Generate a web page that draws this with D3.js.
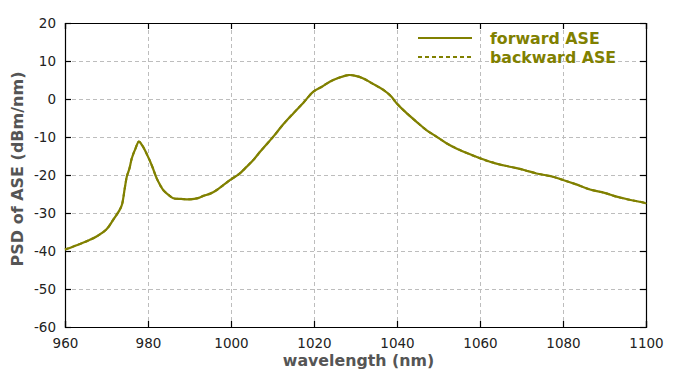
<!DOCTYPE html>
<html><head><meta charset="utf-8">
<script src="https://cdn.jsdelivr.net/npm/d3@7"></script>
<style>body{margin:0;background:#fff}svg{display:block}</style>
</head><body>
<script>
const wavelength = [960,963,965.5,967.6,970,971.6,973,973.7,974.4,974.9,975.5,976.1,977,977.8,978.6,979.8,981,982.1,983,983.7,985,986.1,988,990.1,992,993.3,995,996.5,998,999.8,1002,1003.8,1005.5,1007,1008.6,1010.2,1012.5,1015,1017.5,1019.8,1022,1023.9,1026,1028.3,1030,1031.9,1034,1036.7,1038.5,1039.9,1042,1044.7,1047,1049.5,1052,1054.3,1057,1060,1062.4,1065,1068.8,1071,1073.6,1077,1080,1083,1086.5,1090,1092.9,1096,1099.8,1100];
const forwardASE = [-39.6,-38.4,-37.3,-36.2,-34.3,-31.8,-29.5,-27.9,-23.5,-20.4,-18.4,-15.6,-13,-11.2,-12.2,-14.7,-17.7,-20.9,-22.8,-24,-25.3,-26.1,-26.3,-26.4,-26.1,-25.5,-24.9,-24,-22.8,-21.3,-19.7,-17.8,-15.9,-13.9,-11.9,-9.9,-6.8,-3.8,-0.9,1.9,3.3,4.6,5.6,6.3,6.1,5.4,4.1,2.4,0.8,-1.1,-3.4,-6,-8.1,-9.9,-11.7,-13,-14.3,-15.6,-16.5,-17.3,-18.2,-18.8,-19.6,-20.3,-21.3,-22.4,-23.8,-24.7,-25.7,-26.5,-27.4,-27.6];
const backwardASE = forwardASE.slice();
const xTicks = [960,980,1000,1020,1040,1060,1080,1100];
const yTicks = [20,10,0,-10,-20,-30,-40,-50,-60];
const seriesNames = ["forward ASE","backward ASE"];

const W=700,H=375, L=65, R=646, T=23, B=327;
const color = "#808000";
const svg = d3.select("body").append("svg").attr("width",W).attr("height",H);
const x = d3.scaleLinear().domain([960,1100]).range([L,R]);
const y = d3.scaleLinear().domain([-60,20]).range([B,T]);
const font = "DejaVu Sans, Verdana, sans-serif";

// grid
const g = svg.append("g");
g.selectAll(".gx").data(xTicks.slice(1,-1)).enter().append("line")
 .attr("x1",d=>x(d)+0.5).attr("x2",d=>x(d)+0.5).attr("y1",T).attr("y2",B)
 .attr("stroke","#bdbdbd").attr("stroke-dasharray","4,3");
g.selectAll(".gy").data(yTicks.slice(1,-1)).enter().append("line")
 .attr("y1",d=>Math.round(y(d))+0.5).attr("y2",d=>Math.round(y(d))+0.5).attr("x1",L).attr("x2",R)
 .attr("stroke","#bdbdbd").attr("stroke-dasharray","4,3");

// axes (ticks inward)
const fmt = d => String(d);
const axB = d3.axisBottom(x).tickValues(xTicks).tickSize(-6).tickPadding(11).tickFormat(fmt);
const axL = d3.axisLeft(y).tickValues(yTicks).tickSize(-6).tickPadding(9).tickFormat(fmt);
const axT = d3.axisTop(x).tickValues(xTicks).tickSize(-6).tickFormat("");
const axR = d3.axisRight(y).tickValues(yTicks).tickSize(-6).tickFormat("");
[[axB,`translate(0,${B})`],[axL,`translate(${L},0)`],[axT,`translate(0,${T})`],[axR,`translate(${R},0)`]].forEach(([a,t])=>{
  const gg = svg.append("g").attr("transform",t).call(a);
  gg.selectAll("path,line").attr("stroke","#000").attr("stroke-width",1.2);
  gg.selectAll("text").attr("font-family",font).attr("font-size",13.5).attr("fill","#222");
});

// lines
const line = d3.line().x((d,i)=>x(wavelength[i])).y(d=>y(d)).curve(d3.curveCatmullRom.alpha(0.5));
svg.append("path").datum(backwardASE).attr("d",line).attr("fill","none")
 .attr("stroke",color).attr("stroke-width",2).attr("stroke-dasharray","4,3");
svg.append("path").datum(forwardASE).attr("d",line).attr("fill","none")
 .attr("stroke",color).attr("stroke-width",2.2);

// legend
const lg = svg.append("g");
seriesNames.forEach((n,i)=>{
  const yy = 38 + i*19;
  lg.append("line").attr("x1",418).attr("x2",472).attr("y1",yy).attr("y2",yy)
    .attr("stroke",color).attr("stroke-width",2).attr("stroke-dasharray",i? "4,3":null);
  lg.append("text").attr("x",490).attr("y",yy+5.5).text(n)
    .attr("font-family",font).attr("font-size",15.8).attr("font-weight","bold").attr("fill",color);
});

// axis labels
svg.append("text").attr("x",(L+R)/2+3).attr("y",366).attr("text-anchor","middle")
 .attr("font-family",font).attr("font-size",15.8).attr("font-weight","bold").attr("fill","#555").text("wavelength (nm)");
svg.append("text").attr("transform",`translate(23,${(T+B)/2-6}) rotate(-90)`).attr("text-anchor","middle")
 .attr("font-family",font).attr("font-size",16).attr("font-weight","bold").attr("fill","#555").text("PSD of ASE (dBm/nm)");
</script>
</body></html>
